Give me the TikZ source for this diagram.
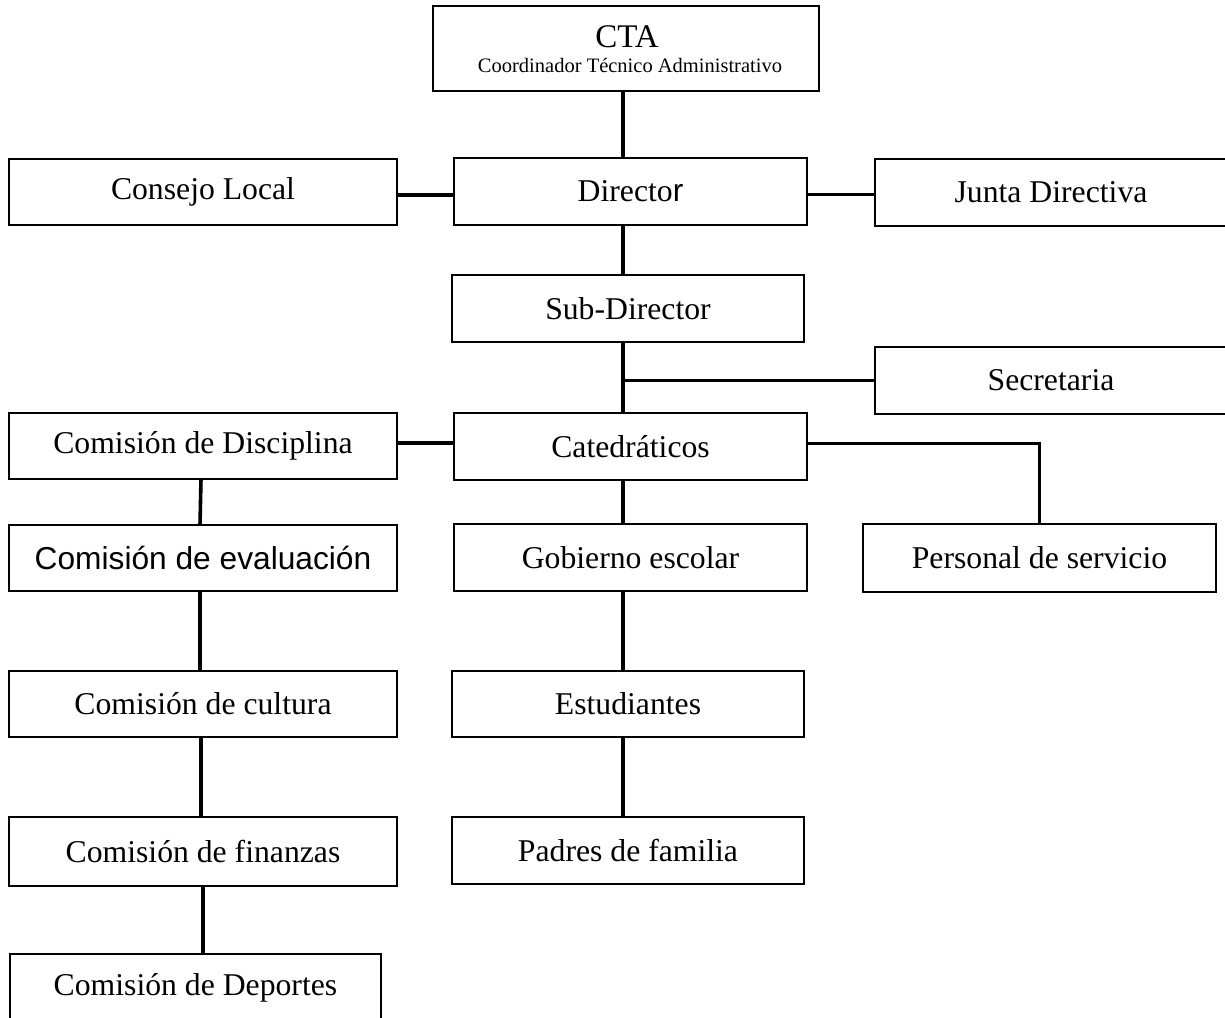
\documentclass[tikz,border=0pt]{standalone}
\usepackage{fontspec}
\setmainfont{Liberation Serif}
\newfontfamily\arialf{Liberation Sans}
\begin{document}
\begin{tikzpicture}[x=1pt,y=-1pt,
  box/.style={draw=black,line width=1.5pt,rectangle,inner sep=0pt,outer sep=0pt,
    minimum width=353pt,minimum height=67pt,align=center,font=\fontsize{31.7}{38}\selectfont},
  wbox/.style={box,minimum width=388pt},
  conn/.style={draw=black,line width=3.6pt}]
\useasboundingbox (0,0) rectangle (1225,1017);
% nodes
\node[box,minimum width=386pt,minimum height=85pt] (cta) at (626,48.5) {};
\node[font=\fontsize{33}{38}\selectfont] (ctat) at (627,37) {CTA};
\node[font=\fontsize{20.5}{24}\selectfont] (ctas) at (630,65) {Coordinador Técnico Administrativo};
\node[box] (director) at (630.5,191.5) {Directo{\arialf r}};
\node[wbox,minimum height=66pt] (consejo) at (203,192) {Consejo Local};
\node[box,minimum width=352pt] (junta) at (1051,192.5) {Junta Directiva};
\node[box,minimum width=352pt] (subdir) at (628,308.5) {Sub-Director};
\node[box,minimum width=352pt] (secretaria) at (1051,380.5) {Secretaria};
\node[wbox,minimum height=66pt] (disciplina) at (203,446) {Comisión de Disciplina};
\node[box] (catedraticos) at (630.5,446.5) {Catedráticos};
\node[wbox,minimum height=66pt] (evaluacion) at (203,558) {\arialf Comisión de evaluación};
\node[box] (gobierno) at (630.5,557.5) {Gobierno escolar};
\node[box,minimum height=68pt] (personal) at (1039.5,558) {Personal de servicio};
\node[wbox,minimum height=66pt] (cultura) at (203,704) {Comisión de cultura};
\node[box,minimum width=352pt,minimum height=66pt] (estudiantes) at (628,704) {Estudiantes};
\node[wbox,minimum height=69pt] (finanzas) at (203,851.5) {Comisión de finanzas};
\node[box,minimum width=352pt] (padres) at (628,850.5) {Padres de familia};
\node[box,minimum width=371pt] (deportes) at (195.5,987.5) {Comisión de Deportes};
% connectors
\draw[conn] ([xshift=-3pt]cta.south) -- ([xshift=-3pt]cta.south |- director.north);
\draw[conn] ([yshift=-3pt]consejo.east) -- ([yshift=-3pt]consejo.east -| director.west);
\draw[conn] ([yshift=-3pt]director.east) -- ([yshift=-3pt]director.east -| junta.west);
\draw[conn] ([xshift=-7.5pt]director.south) -- ([xshift=-7.5pt]director.south |- subdir.north);
\draw[conn] ([xshift=-5pt]subdir.south) -- ([xshift=-5pt]subdir.south |- catedraticos.north);
\draw[conn] ([xshift=-5pt]subdir.south |- secretaria.west) -- (secretaria.west);
\draw[conn] ([yshift=3pt]disciplina.east) -- ([yshift=3pt]disciplina.east -| catedraticos.west);
\draw[conn] ([yshift=3pt]catedraticos.east) -| (personal.north);
\draw[conn] ([xshift=-7.5pt]catedraticos.south) -- ([xshift=-7.5pt]catedraticos.south |- gobierno.north);
\draw[conn] ([xshift=-7.5pt]gobierno.south) -- ([xshift=-7.5pt]gobierno.south |- estudiantes.north);
\draw[conn] ([xshift=-5pt]estudiantes.south) -- ([xshift=-5pt]estudiantes.south |- padres.north);
\draw[conn] ([xshift=-2pt]disciplina.south) -- ([xshift=-3pt]disciplina.south |- evaluacion.north);
\draw[conn] ([xshift=-3pt]evaluacion.south) -- ([xshift=-3pt]evaluacion.south |- cultura.north);
\draw[conn] ([xshift=-2pt]cultura.south) -- ([xshift=-2pt]cultura.south |- finanzas.north);
\draw[conn] ([xshift=0pt]finanzas.south) -- ([xshift=0pt]finanzas.south |- deportes.north);
\end{tikzpicture}
\end{document}
